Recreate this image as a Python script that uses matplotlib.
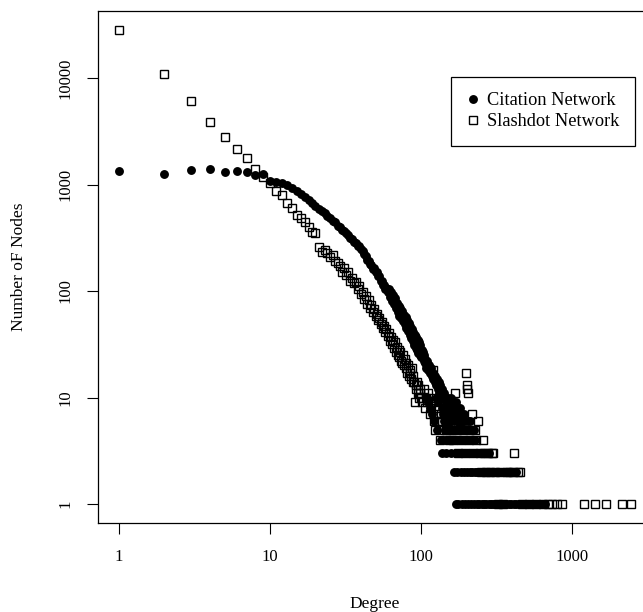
import matplotlib
matplotlib.use("Agg")
import matplotlib.pyplot as plt
import numpy as np

plt.rcParams['font.family'] = ['Liberation Serif', 'DejaVu Serif']

# citation network: node count for degree 1..100, then the scattered tail
cit_head_deg = list(range(1, 101))
cit_head_cnt = [
    1350, 1250, 1360, 1400, 1320, 1330, 1310, 1230, 1260, 1090,
    1060, 1030, 985, 930, 870, 810, 770, 710, 670, 625,
    595, 560, 540, 505, 485, 455, 440, 410, 395, 372,
    365, 348, 336, 315, 308, 290, 284, 266, 262, 246,
    240, 221, 215, 196, 192, 178, 175, 162, 163, 150,
    151, 138, 137, 124, 125, 113, 115, 104, 106, 97,
    104, 88, 97, 80, 92, 75, 86, 70, 78, 64,
    73, 58, 69, 56, 65, 52, 60, 49, 57, 45,
    53, 42, 50, 39, 47, 36, 44, 34, 41, 31,
    39, 29, 37, 28, 35, 26, 33, 25, 31, 24,
]
cit_tail_deg = [101, 102, 103, 104, 105, 106, 107, 108, 110, 111, 113, 115,
                117, 118, 120, 121, 123, 124, 126, 127, 129, 131, 132, 134,
                136, 138, 140, 142]
cit_tail_cnt = [28, 24, 27, 22, 25, 21, 23, 19, 22, 18, 20, 17,
                19, 16, 15, 17, 14, 16, 13, 15, 12, 14, 11, 13,
                11, 12, 10, 11]
cit_c10 = [109, 125, 144, 152, 158]
cit_c9 = [112, 130, 146, 155, 163, 170]
cit_c8 = [114, 137, 148, 160, 168, 176, 182]
cit_c7 = [119, 139, 150, 162, 172, 180, 187, 192]
cit_c6 = [122, 143, 154, 165, 175, 185, 195, 205, 212]
cit_c5 = [128, 145, 157, 167, 178, 190, 199, 208, 216, 225]
cit_c4 = [135, 149, 161, 173, 183, 193, 202, 210, 218, 228]
cit_c3 = [137, 147, 159, 171, 181, 196, 206, 214, 222, 232, 240, 248, 257,
          266, 275, 282]
cit_c2 = [166, 174, 184, 194, 201, 211, 219, 227, 236, 244, 253, 262, 271,
          285, 298, 312, 327, 343, 360, 378, 397, 416, 425]
cit_c1 = [170, 177, 186, 197, 204, 215, 224, 234, 243, 252, 261, 270, 280,
          290, 301, 313, 325, 338, 351, 365, 380, 395, 411, 428, 445, 463,
          482, 501, 521, 542, 564, 587, 611, 636, 662]

# slashdot network
sla_head_deg = list(range(1, 101))
sla_head_cnt = [
    28200, 10900, 6040, 3900, 2810, 2140, 1760, 1400, 1180, 1025,
    860, 795, 670, 600, 517, 484, 444, 400, 360, 350,
    261, 234, 243, 228, 210, 218, 190, 183, 170, 150,
    165, 140, 150, 124, 133, 118, 122, 104, 112, 94,
    98, 84, 90, 76, 82, 70, 74, 64, 68, 58,
    61, 53, 56, 49, 51, 45, 47, 41, 44, 38,
    40, 34, 37, 32, 35, 29, 33, 27, 30, 25,
    28, 24, 27, 22, 21, 25, 20, 23, 19, 21,
    17, 20, 16, 18, 17, 15, 19, 14, 16, 14,
    9, 13, 12, 14, 11, 13, 10, 12, 11, 10,
]
sla_tail_deg = [102, 104, 106, 108, 110, 112, 114, 116, 118, 120, 122, 123,
                125, 127, 129, 131, 133, 135, 138, 141, 144, 147, 150, 153,
                156, 160, 164, 168, 172, 176, 180, 185, 190, 195, 199, 201,
                203, 205, 208, 212, 218, 222, 228, 233, 238, 245, 250, 256,
                262, 270, 278, 287, 295, 302, 310, 322, 335, 350, 370, 380,
                405, 413, 440, 453, 470, 520, 580, 640, 690, 735, 790, 865,
                1195, 1420, 1680, 2150, 2460]
sla_tail_cnt = [9, 12, 8, 10, 9, 11, 7, 8, 10, 18, 6, 5,
                9, 7, 8, 6, 4, 7, 6, 5, 8, 5, 6, 4,
                7, 5, 4, 11, 5, 3, 6, 4, 5, 3, 17, 13,
                12, 11, 4, 5, 7, 3, 5, 4, 6, 3, 2, 4,
                3, 2, 3, 2, 3, 3, 2, 1, 2, 1, 2, 2,
                2, 3, 2, 2, 1, 1, 1, 1, 1, 1, 1, 1,
                1, 1, 1, 1, 1]

cit_deg = cit_head_deg + cit_tail_deg
cit_cnt = cit_head_cnt + cit_tail_cnt
for c, row in [(10, cit_c10), (9, cit_c9), (8, cit_c8), (7, cit_c7), (6, cit_c6),
               (5, cit_c5), (4, cit_c4), (3, cit_c3), (2, cit_c2), (1, cit_c1)]:
    cit_deg += row
    cit_cnt += [c] * len(row)
sla_deg = sla_head_deg + sla_tail_deg
sla_cnt = sla_head_cnt + sla_tail_cnt

W, H = 643, 612
fig = plt.figure(figsize=(W / 100, H / 100), dpi=100)
# plot box in pixels: left 98.2, right 651.7 (cut off), top 11.1, bottom 523
ax = fig.add_axes([98.2 / W, (H - 523) / H, (651.7 - 98.2) / W, (523 - 11.1) / H])

ax.plot(cit_deg, cit_cnt, 'o', color='black', ms=6.4, mew=0,
        label='Citation Network')
ax.plot(sla_deg, sla_cnt, 's', mfc='none', mec='black', ms=5.4, mew=1.0,
        label='Slashdot Network')

ax.set_xscale('log')
ax.set_yscale('log')
ax.set_xlim(10 ** -0.138, 10 ** 3.528)
ax.set_ylim(10 ** -0.178, 10 ** 4.628)

ax.set_xticks([1, 10, 100, 1000])
ax.set_xticklabels(['1', '10', '100', '1000'])
ax.set_yticks([1, 10, 100, 1000, 10000])
ax.set_yticklabels(['1', '10', '100', '1000', '10000'], rotation=90, va='center')
ax.minorticks_off()
ax.tick_params(direction='out', length=8, width=0.8, labelsize=12, colors='black')
ax.tick_params(axis='x', pad=11)
ax.tick_params(axis='y', pad=10)
for s in ax.spines.values():
    s.set_linewidth(0.9)

ax.set_xlabel('Degree', fontsize=12.5, labelpad=22)
ax.set_ylabel('Number oF Nodes', fontsize=12.5, labelpad=22)

leg = ax.legend(loc='upper left', bbox_to_anchor=(450.7 / W, 1 - 76.7 / H),
                bbox_transform=fig.transFigure, fontsize=13.2, frameon=True,
                fancybox=False, edgecolor='black', framealpha=1,
                handlelength=0.7, handletextpad=0.45, borderpad=0.85,
                labelspacing=0.2, borderaxespad=0)
leg.get_frame().set_linewidth(0.9)

fig.savefig('out.png', dpi=100)
